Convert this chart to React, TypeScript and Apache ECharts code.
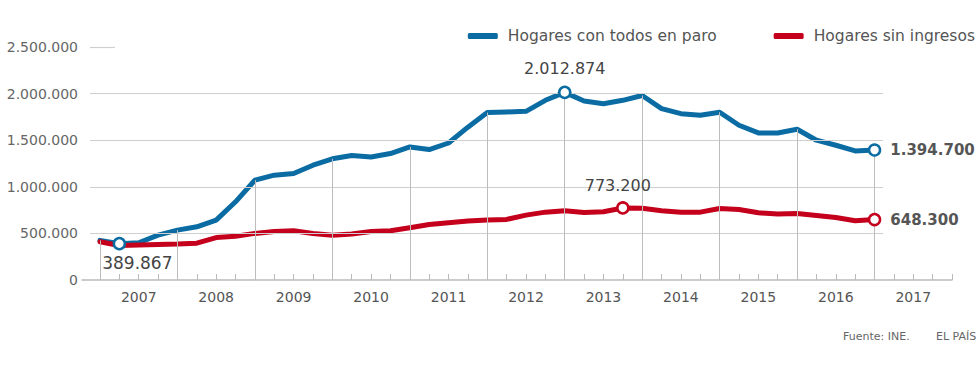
import React, { useEffect, useRef } from "react";
import * as echarts from "echarts";

// Quarters from 2006-T4 (index 0) to 2016-T4 (index 40); axis runs to 2017-T4 (index 44)
const quarters: string[] = [];
for (let y = 2006; y <= 2016; y++) {
  for (let q = 1; q <= 4; q++) {
    if (y === 2006 && q < 4) continue;
    quarters.push(`${y}-T${q}`);
  }
}
const yearLabels = ["2007", "2008", "2009", "2010", "2011", "2012", "2013", "2014", "2015", "2016", "2017"];

const hogaresParo = [
  425000, 389867, 400000, 482000, 535000, 571000, 643000, 839000, 1071000, 1125000,
  1143000, 1232000, 1300000, 1335000, 1320000, 1357000, 1428000, 1400000, 1470000, 1640000,
  1796000, 1803000, 1810000, 1928000, 2012874, 1920000, 1892000, 1928000, 1980000, 1839000,
  1785000, 1767000, 1800000, 1660000, 1578000, 1578000, 1617000, 1500000, 1446000, 1385000,
  1394700,
];
const hogaresSinIngresos = [
  410000, 370000, 375000, 380000, 385000, 395000, 455000, 470000, 500000, 521000,
  528000, 500000, 479000, 493000, 521000, 528000, 560000, 596000, 614000, 632000,
  643000, 650000, 696000, 728000, 742000, 725000, 732000, 773200, 770000, 742000,
  728000, 728000, 768000, 757000, 721000, 707000, 714000, 693000, 671000, 636000,
  648300,
];
const yTicks = [0, 500000, 1000000, 1500000, 2000000, 2500000];
const blueMarks = [1, 24, 40];
const redMarks = [27, 40];
const dropIdx = [0, 4, 8, 12, 16, 20, 24, 28, 32, 36, 40];

const BLUE = "#0a6ca3";
const RED = "#c4001c";
const FONT = "DejaVu Sans";

const fmt = (v: number) => String(Math.round(v)).replace(/\B(?=(\d{3})+(?!\d))/g, ".");

export default function App() {
  const ref = useRef<HTMLDivElement>(null);
  useEffect(() => {
    document.body.style.margin = "0";
    const chart = echarts.init(ref.current!, undefined, { renderer: "svg" });
    const lastIdx = hogaresParo.length - 1;

    const gridLines = yTicks
      .filter((v) => v > 0)
      .map((v) => [
        { coord: [-0.516, v] },
        { coord: [v === 2500000 ? 0.775 : 40.44, v] },
      ]);
    const dropLines = dropIdx.map((i) => [
      { coord: [i, 0] },
      { coord: [i, hogaresParo[i]] },
    ]);

    const blueLabel = (i: number) => {
      if (i === 1)
        return { show: true, position: "bottom", distance: 4, offset: [18, 0], fontSize: 17, color: "#444", fontFamily: FONT };
      if (i === lastIdx)
        return { show: true, position: "right", distance: 9, fontSize: 15, fontWeight: "bold", color: "#555", fontFamily: FONT };
      return { show: true, position: "top", distance: 9, fontSize: 16, color: "#444", fontFamily: FONT };
    };
    const redLabel = (i: number) => {
      if (i === lastIdx)
        return { show: true, position: "right", distance: 9, fontSize: 15, fontWeight: "bold", color: "#555", fontFamily: FONT };
      return { show: true, position: "top", distance: 8, offset: [-5, 0], fontSize: 16, color: "#444", fontFamily: FONT };
    };

    chart.setOption({
      animation: false,
      textStyle: { fontFamily: FONT },
      grid: { left: 82, right: 28, top: 47, bottom: 90 },
      legend: {
        data: ["Hogares con todos en paro", "Hogares sin ingresos"],
        right: 0,
        top: 23,
        icon: "roundRect",
        itemWidth: 30,
        itemHeight: 6,
        itemGap: 57,
        textStyle: { fontSize: 15.5, color: "#555", fontFamily: FONT, padding: [0, 0, 0, 5] },
      },
      xAxis: {
        type: "value",
        min: -0.929,
        max: 44,
        splitLine: { show: false },
        axisLine: { show: true, lineStyle: { color: "#bbb", width: 1.5 } },
        axisTick: {
          show: true,
          inside: true,
          length: 6,
          customValues: Array.from({ length: 45 }, (_, i) => i),
          lineStyle: { color: "#bbb", width: 1 },
        },
        axisLabel: {
          show: true,
          customValues: yearLabels.map((_, k) => 2 + 4 * k),
          formatter: (v: number) => yearLabels[Math.round((v - 2) / 4)] ?? "",
          margin: 10,
          fontSize: 14,
          color: "#555",
          fontFamily: FONT,
        },
      },
      yAxis: {
        type: "value",
        min: 0,
        max: 2500000,
        interval: 500000,
        splitLine: { show: false },
        axisLine: { show: false },
        axisTick: { show: false },
        axisLabel: { formatter: (v: number) => fmt(v), margin: 4, fontSize: 14, color: "#666", fontFamily: FONT },
      },
      series: [
        {
          type: "line",
          data: [],
          z: 1,
          silent: true,
          markLine: {
            silent: true,
            symbol: ["none", "none"],
            label: { show: false },
            emphasis: { disabled: true },
            lineStyle: { type: "solid", color: "#cfcfcf", width: 1.2 },
            data: gridLines,
          },
        },
        {
          type: "line",
          data: [],
          z: 1,
          silent: true,
          markLine: {
            silent: true,
            symbol: ["none", "none"],
            label: { show: false },
            emphasis: { disabled: true },
            lineStyle: { type: "solid", color: "#bdbdbd", width: 1 },
            data: dropLines,
          },
        },
        {
          name: "Hogares con todos en paro",
          type: "line",
          data: hogaresParo.map((v, i) => [i, v]),
          symbol: "none",
          color: BLUE,
          lineStyle: { color: BLUE, width: 5, join: "round", cap: "round" },
          z: 2,
          silent: true,
        },
        {
          name: "Hogares sin ingresos",
          type: "line",
          data: hogaresSinIngresos.map((v, i) => [i, v]),
          symbol: "none",
          color: RED,
          lineStyle: { color: RED, width: 5, join: "round", cap: "round" },
          z: 3,
          silent: true,
        },
        {
          type: "scatter",
          z: 5,
          silent: true,
          symbol: "circle",
          symbolSize: 11,
          itemStyle: { color: "#fff", borderColor: BLUE, borderWidth: 2.5, opacity: 1 },
          data: blueMarks.map((i) => ({
            value: [i, hogaresParo[i]],
            label: { ...blueLabel(i), formatter: () => fmt(hogaresParo[i]) },
          })),
        },
        {
          type: "scatter",
          z: 5,
          silent: true,
          symbol: "circle",
          symbolSize: 11,
          itemStyle: { color: "#fff", borderColor: RED, borderWidth: 2.5, opacity: 1 },
          data: redMarks.map((i) => ({
            value: [i, hogaresSinIngresos[i]],
            label: { ...redLabel(i), formatter: () => fmt(hogaresSinIngresos[i]) },
          })),
        },
      ],
      graphic: [
        { type: "text", left: 843, top: 331, style: { text: "Fuente: INE.", fontSize: 11, fill: "#666", fontFamily: FONT } },
        { type: "text", left: 936, top: 331, style: { text: "EL PAÍS", fontSize: 11, fill: "#666", fontFamily: FONT } },
      ],
    });
    return () => chart.dispose();
  }, []);
  return <div ref={ref} style={{ width: 980, height: 370 }} />;
}
